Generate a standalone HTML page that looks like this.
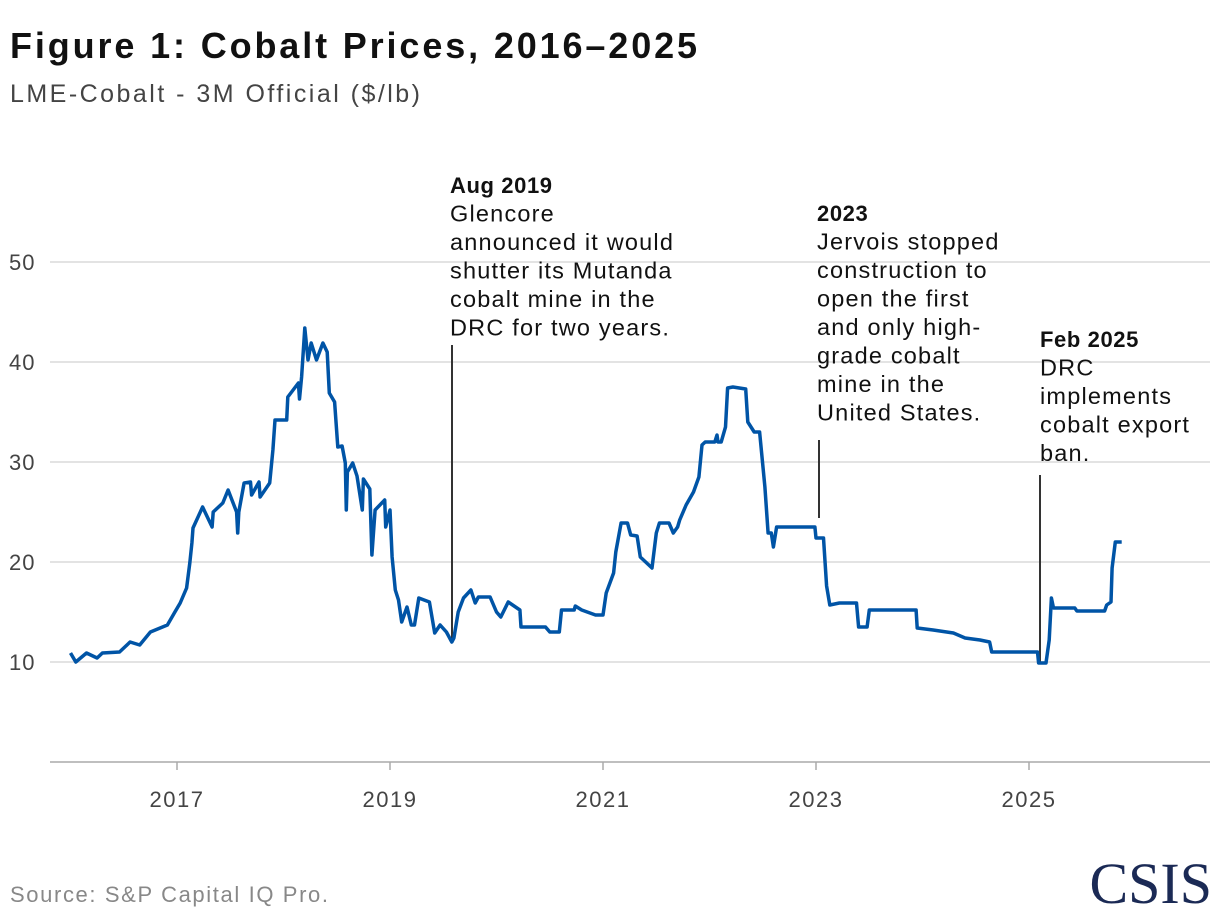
<!DOCTYPE html>
<html><head><meta charset="utf-8"><style>
body{margin:0;background:#fff;width:1220px;height:920px;overflow:hidden;font-family:"Liberation Sans",sans-serif}
</style></head><body>
<svg width="1220" height="920" style="position:absolute;left:0;top:0">
<text x="10" y="58" font-size="36" font-weight="bold" fill="#111" textLength="687" lengthAdjust="spacing">Figure 1: Cobalt Prices, 2016–2025</text>
<text x="10" y="102" font-size="25" fill="#444" textLength="410" lengthAdjust="spacing">LME-Cobalt - 3M Official ($/lb)</text>
<g id="grid"></g><g id="xaxis"></g><g id="annot"></g><g id="series"></g>
<text x="10" y="902" font-size="22" fill="#888" textLength="318" lengthAdjust="spacing">Source: S&amp;P Capital IQ Pro.</text>
<text x="1212" y="903" font-size="58" text-anchor="end" font-family="Liberation Serif,serif" fill="#1b2a55">CSIS</text>
</svg>
<script>
const yTicks=[10,20,30,40,50];
const xTicks=[2017,2019,2021,2023,2025];
const years=[2016.0,2016.05,2016.15,2016.25,2016.3,2016.46,2016.56,2016.65,2016.75,2016.91,2016.98,2017.03,2017.09,2017.12,2017.14,2017.15,2017.24,2017.33,2017.34,2017.43,2017.48,2017.56,2017.57,2017.58,2017.63,2017.69,2017.7,2017.77,2017.78,2017.87,2017.9,2017.92,2018.03,2018.04,2018.14,2018.15,2018.17,2018.2,2018.23,2018.26,2018.31,2018.37,2018.41,2018.43,2018.48,2018.51,2018.55,2018.58,2018.59,2018.6,2018.65,2018.69,2018.74,2018.75,2018.81,2018.83,2018.86,2018.95,2018.96,2019.0,2019.02,2019.05,2019.08,2019.11,2019.16,2019.2,2019.23,2019.27,2019.37,2019.42,2019.47,2019.53,2019.58,2019.6,2019.64,2019.69,2019.76,2019.8,2019.83,2019.94,2020.0,2020.04,2020.11,2020.22,2020.23,2020.46,2020.5,2020.59,2020.61,2020.73,2020.74,2020.8,2020.93,2021.0,2021.03,2021.1,2021.12,2021.17,2021.23,2021.26,2021.32,2021.35,2021.41,2021.46,2021.5,2021.53,2021.62,2021.66,2021.7,2021.72,2021.78,2021.85,2021.9,2021.93,2021.96,2022.05,2022.07,2022.08,2022.11,2022.15,2022.17,2022.22,2022.34,2022.36,2022.42,2022.47,2022.52,2022.55,2022.58,2022.6,2022.63,2022.99,2023.0,2023.07,2023.1,2023.13,2023.22,2023.38,2023.4,2023.48,2023.5,2023.94,2023.95,2024.1,2024.29,2024.4,2024.54,2024.63,2024.65,2025.08,2025.09,2025.16,2025.19,2025.21,2025.23,2025.43,2025.45,2025.71,2025.73,2025.77,2025.78,2025.81,2025.87];
const prices=[10.9,10.0,10.9,10.4,10.9,11.0,12.0,11.7,13.0,13.7,15.0,15.9,17.4,19.9,21.9,23.4,25.5,23.5,25.0,25.9,27.2,25.0,22.9,25.0,27.9,28.0,26.7,28.0,26.5,27.9,31.2,34.2,34.2,36.5,37.9,36.3,38.5,43.4,40.2,41.9,40.2,41.9,41.0,36.9,36.0,31.5,31.6,29.9,25.2,29.0,29.9,28.6,25.2,28.3,27.3,20.7,25.2,26.2,23.5,25.2,20.5,17.2,16.2,14.0,15.5,13.7,13.7,16.4,16.0,12.9,13.7,13.0,12.0,12.4,15.0,16.4,17.2,15.9,16.5,16.5,15.0,14.5,16.0,15.2,13.5,13.5,13.0,13.0,15.2,15.2,15.6,15.2,14.7,14.7,16.9,18.9,21.0,23.9,23.9,22.7,22.6,20.5,19.9,19.4,22.9,23.9,23.9,22.9,23.5,24.2,25.7,27.0,28.5,31.7,32.0,32.0,32.7,32.0,32.0,33.5,37.4,37.5,37.3,34.0,33.0,33.0,27.5,22.9,22.9,21.5,23.5,23.5,22.4,22.4,17.6,15.7,15.9,15.9,13.5,13.5,15.2,15.2,13.4,13.2,12.9,12.4,12.2,12.0,11.0,11.0,9.9,9.9,12.2,16.4,15.4,15.4,15.1,15.1,15.7,16.0,19.4,22.0,22.0];
const xS=y=>177+(y-2017)*106.5;
const yS=v=>762-v*10;
const NS='http://www.w3.org/2000/svg';
function mk(tag,attrs,parent,txt){const e=document.createElementNS(NS,tag);for(const k in attrs)e.setAttribute(k,attrs[k]);if(txt!=null)e.textContent=txt;document.getElementById(parent).appendChild(e);return e;}
yTicks.forEach(t=>{
 const l=mk('line',{x1:50,x2:1210,y1:yS(t),y2:yS(t),stroke:'#e3e3e3','stroke-width':2},'grid');
 
 
 const tx=mk('text',{x:9,y:yS(t)+8,'font-size':22,'letter-spacing':1,fill:'#444'},'grid',t);
 
 
});
const ax=mk('line',{x1:50,x2:1210,y1:762,y2:762,stroke:'#aaa','stroke-width':1.5},'xaxis');


xTicks.forEach(t=>{
 const tk=mk('line',{x1:xS(t),x2:xS(t),y1:762,y2:770,stroke:'#aaa','stroke-width':1.5},'xaxis');
 
 
 const tx=mk('text',{x:xS(t),y:807,'font-size':22,'letter-spacing':1.5,fill:'#444','text-anchor':'middle'},'xaxis',t);
 
 
});
const ann=[
 {x:450,y:193,head:'Aug 2019',lines:['Glencore','announced it would','shutter its Mutanda','cobalt mine in the','DRC for two years.'],lx:452,l1:345,l2:640},
 {x:817,y:221,head:'2023',lines:['Jervois stopped','construction to','open the first','and only high-','grade cobalt','mine in the','United States.'],lx:819,l1:440,l2:518},
 {x:1040,y:347,head:'Feb 2025',lines:['DRC','implements','cobalt export','ban.'],lx:1040,l1:475,l2:662}
];
ann.forEach((a,i)=>{
 const ln=mk('line',{x1:a.lx,x2:a.lx,y1:a.l1,y2:a.l2,stroke:'#333','stroke-width':2},'annot');
 
 
 const h=mk('text',{x:a.x,y:a.y,'font-size':22,'font-weight':'bold','letter-spacing':0.6,fill:'#111'},'annot',a.head);
 
 
 a.lines.forEach((s,j)=>{
  const t=mk('text',{x:a.x,y:a.y+28.5*(j+1),'font-size':23.5,'letter-spacing':1.2,fill:'#111'},'annot',s);
  
  
 });
});
const d=years.map((y,i)=>(i?'L':'M')+xS(y).toFixed(1)+' '+yS(prices[i]).toFixed(1)).join(' ');
const p=mk('path',{d:d,fill:'none',stroke:'#0054a6','stroke-width':3.5,'stroke-linejoin':'round'},'series');


</script>
</body></html>
